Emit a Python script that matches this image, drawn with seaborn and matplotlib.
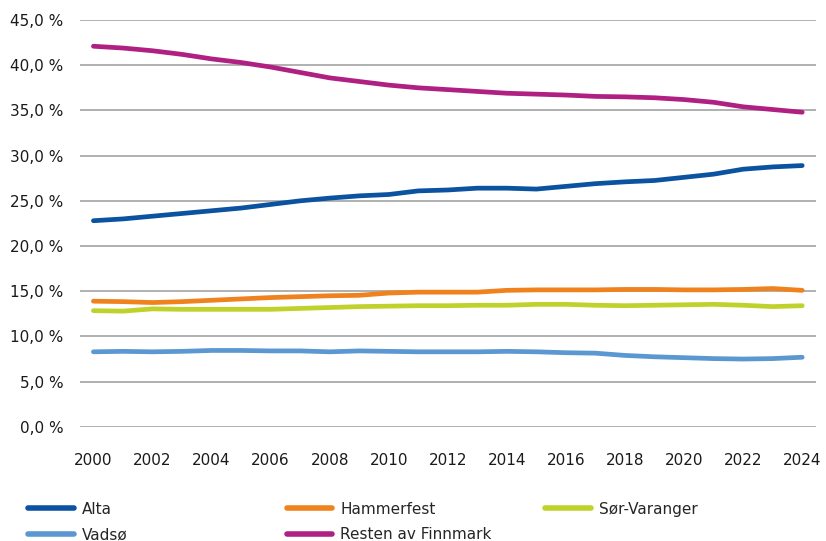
import pandas as pd
import numpy as np
import seaborn as sns
import matplotlib.pyplot as plt
from matplotlib.lines import Line2D

sns.set_style("white")
plt.rcParams['font.family'] = ['DejaVu Sans']

# Data (share of Finnmark population, %)
years = list(range(2000, 2025))
alta = [22.8, 23.0, 23.3, 23.6, 23.9, 24.2, 24.6, 25.0, 25.3, 25.55, 25.7, 26.1, 26.2,
        26.4, 26.4, 26.3, 26.6, 26.9, 27.1, 27.25, 27.6, 27.95, 28.5, 28.75, 28.9]
hammerfest = [13.9, 13.85, 13.75, 13.85, 14.0, 14.15, 14.3, 14.4, 14.5, 14.55, 14.8, 14.9, 14.9,
              14.9, 15.1, 15.15, 15.15, 15.15, 15.2, 15.2, 15.15, 15.15, 15.2, 15.3, 15.1]
sor_varanger = [12.85, 12.8, 13.05, 13.0, 13.0, 13.0, 13.0, 13.1, 13.2, 13.3, 13.35, 13.4, 13.4,
                13.45, 13.45, 13.55, 13.55, 13.45, 13.4, 13.45, 13.5, 13.55, 13.45, 13.3, 13.4]
vadso = [8.3, 8.35, 8.3, 8.35, 8.45, 8.45, 8.4, 8.4, 8.3, 8.4, 8.35, 8.3, 8.3,
         8.3, 8.35, 8.3, 8.2, 8.15, 7.9, 7.75, 7.65, 7.55, 7.5, 7.55, 7.7]
resten = [42.1, 41.9, 41.6, 41.2, 40.7, 40.3, 39.8, 39.2, 38.6, 38.2, 37.8, 37.5, 37.3,
          37.1, 36.9, 36.8, 36.7, 36.55, 36.5, 36.4, 36.2, 35.9, 35.4, 35.1, 34.8]

series = {
    'Alta': alta,
    'Hammerfest': hammerfest,
    'Sør-Varanger': sor_varanger,
    'Vadsø': vadso,
    'Resten av Finnmark': resten,
}
colors = {
    'Alta': '#0b52a0',
    'Hammerfest': '#f0821e',
    'Sør-Varanger': '#bfd22b',
    'Vadsø': '#5b97d1',
    'Resten av Finnmark': '#b01f82',
}

df = pd.DataFrame([(y, name, v) for name, vals in series.items() for y, v in zip(years, vals)],
                  columns=['År', 'Område', 'Andel'])

fig = plt.figure(figsize=(8.26, 5.41), dpi=100)
ax = fig.add_axes([0.097, 0.211, 0.891, 0.752])

sns.lineplot(data=df, x='År', y='Andel', hue='Område', palette=colors, linewidth=3.4,
             ax=ax, legend=False, solid_capstyle='round')

ax.set_xlim(1999.55, 2024.47)
ax.set_ylim(0, 45)
ax.set_yticks(np.arange(0, 46, 5))
ax.set_yticklabels([f'{v:.1f} %'.replace('.', ',') for v in np.arange(0, 46, 5)])
ax.set_xticks(range(2000, 2025, 2))
ax.grid(axis='y', color='#b0b0b0', linewidth=1.4)
ax.set_axisbelow(True)
for s in ax.spines.values():
    s.set_visible(False)
ax.tick_params(axis='both', length=0, labelsize=11, colors='#1a1a1a')
ax.tick_params(axis='x', pad=19)
ax.tick_params(axis='y', pad=12)
ax.set_xlabel('')
ax.set_ylabel('')

# Legend: three columns laid out row-wise
cols = [['Alta', 'Vadsø'], ['Hammerfest', 'Resten av Finnmark'], ['Sør-Varanger']]
xpos = [0.034, 0.347, 0.660]
for names, x in zip(cols, xpos):
    handles = [Line2D([0], [0], color=colors[n], lw=4, solid_capstyle='round') for n in names]
    fig.legend(handles, names, loc='upper left', bbox_to_anchor=(x, 0.073), frameon=False,
               fontsize=11, handlelength=3.0, handletextpad=0.5, labelspacing=0.7,
               borderaxespad=0, borderpad=0)

fig.savefig('out.png', dpi=100)
